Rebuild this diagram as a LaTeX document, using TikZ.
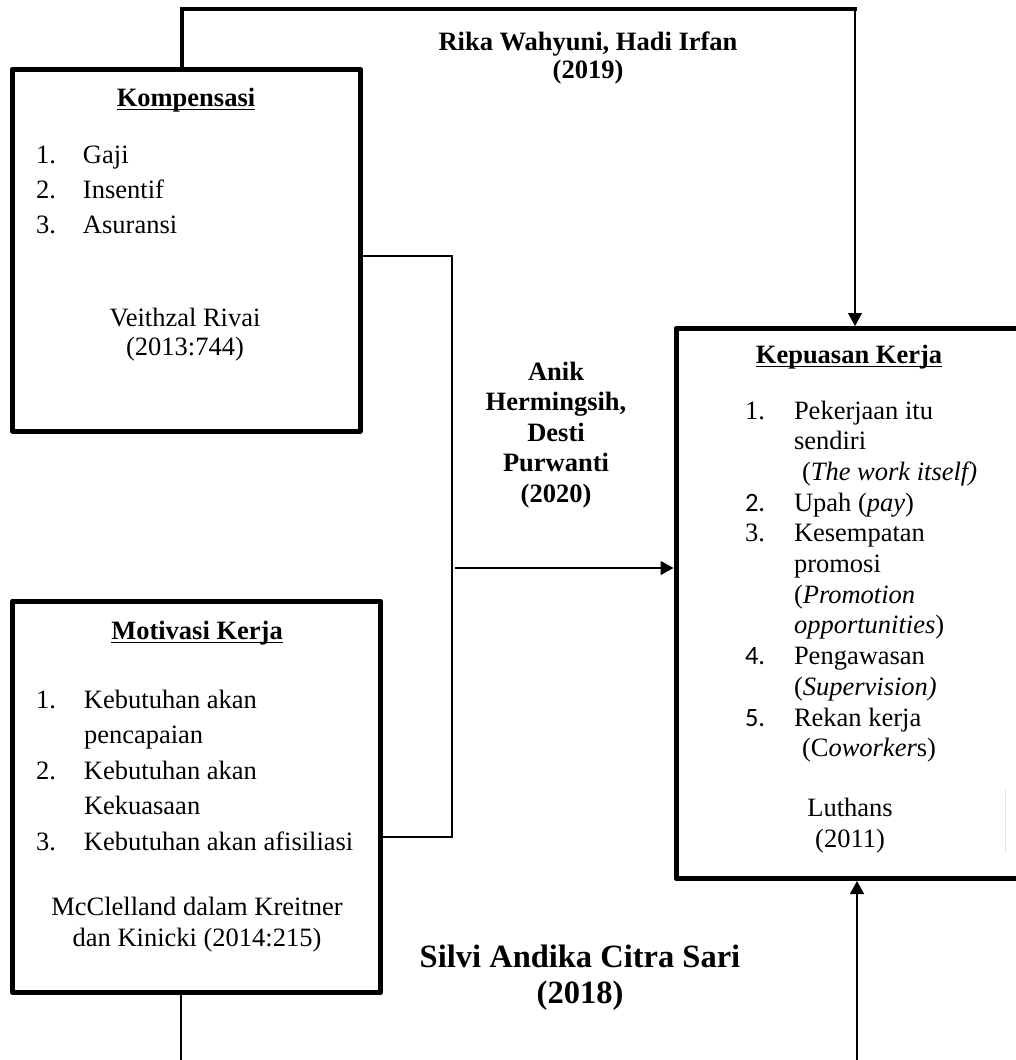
\documentclass[tikz,border=0pt]{standalone}
\usepackage{fontspec}
\setmainfont{Liberation Serif}
\newfontfamily\calib{Carlito}
\usetikzlibrary{arrows.meta}
\begin{document}
\begin{tikzpicture}[x=1pt,y=-1pt,
  box/.style={draw, line width=5pt, line join=round, inner sep=0pt, outer sep=0pt},
  txt/.style={inner sep=0pt, outer sep=0pt, anchor=base},
  lst/.style={inner sep=0pt, outer sep=0pt, anchor=base west},
  conn/.style={line width=1.4pt},
  heavy/.style={line width=3.8pt, line join=miter},
  arr/.style={conn, -{Triangle[length=13pt,width=14pt]}, shorten >=2.5pt},
  uline/.style={line width=1.7pt}
]
\useasboundingbox (0,0) rectangle (1016,1060);
\clip (0,0) rectangle (1016,1060);

% boxes
\node[box, minimum width=347.5pt, minimum height=362pt] (komp) at (186.25,250) {};
\node[box, minimum width=368pt, minimum height=391.5pt] (moti) at (196.5,796.75) {};
\node[box, minimum width=354pt, minimum height=550pt] (kep) at (853,603.5) {};

% coordinates for connector bends
\coordinate (t1) at (182,9);
\coordinate (t2) at (857,9);
\coordinate (t3) at (855,9);
\coordinate (bt) at (452,256);
\coordinate (bb) at (452,837);
\coordinate (ha) at (455,568);
\coordinate (mb) at (181,1064);
\coordinate (ba) at (857,1064);

% connectors
\draw[heavy] (komp.north -| t1) -- (t1) -- (t2);
\draw[arr] (t3) -- (t3 |- kep.north);
\draw[conn] (komp.east |- bt) -- (bt) -- (bb) -- (moti.east |- bb);
\draw[arr] (ha) -- (ha -| kep.west);
\draw[conn] (moti.south -| mb) -- (mb);
\draw[arr] (ba) -- (ba |- kep.south);

% faint line at right
\draw[line width=1pt, black!12] (1005,790) -- (1005,852);

% Kompensasi
\node[txt, font=\fontsize{26.5}{35}\selectfont\bfseries] (kt) at (186,106) {Kompensasi};
\draw[uline] ([yshift=-3.5pt]kt.base west) -- ([yshift=-3.5pt]kt.base east);
\node[lst, font=\fontsize{26.5}{35}\selectfont] (kl) at (36,163)
  {\begin{tabular}[t]{@{}p{47pt}@{}l@{}}1.&Gaji\\2.&Insentif\\3.&Asuransi\end{tabular}};
\node[txt, font=\fontsize{26.5}{29}\selectfont] (kc) at (185,326)
  {\begin{tabular}[t]{@{}c@{}}Veithzal Rivai\\(2013:744)\end{tabular}};

% Motivasi
\node[txt, font=\fontsize{26.5}{35}\selectfont\bfseries] (mt) at (197,639) {Motivasi Kerja};
\draw[uline] ([yshift=-3.5pt]mt.base west) -- ([yshift=-3.5pt]mt.base east);
\node[lst, font=\fontsize{26.5}{35.5}\selectfont] (ml) at (36,708)
  {\begin{tabular}[t]{@{}p{48pt}@{}l@{}}1.&Kebutuhan akan\\&pencapaian\\2.&Kebutuhan akan\\&Kekuasaan\\3.&Kebutuhan akan afisiliasi\end{tabular}};
\node[txt, font=\fontsize{26.5}{31}\selectfont] (mc) at (197,915)
  {\begin{tabular}[t]{@{}c@{}}McClelland dalam Kreitner\\dan Kinicki (2014:215)\end{tabular}};

% Kepuasan
\node[txt, font=\fontsize{26.5}{35}\selectfont\bfseries] (pt) at (849,363) {Kepuasan Kerja};
\draw[uline] ([yshift=-3.5pt]pt.base west) -- ([yshift=-3.5pt]pt.base east);
\node[lst, font=\fontsize{26.5}{30.7}\selectfont] (pl) at (745,419)
  {\begin{tabular}[t]{@{}p{49pt}@{}l@{}}
1.&Pekerjaan itu\\
&sendiri\\
&\hspace{8pt}(\textit{The work itself)}\\
{\calib 2.}&Upah (\textit{pay})\\
3.&Kesempatan\\
&promosi\\
&(\textit{Promotion}\\
&\textit{opportunities})\\
{\calib 4.}&Pengawasan\\
&(\textit{Supervision)}\\
{\calib 5.}&Rekan kerja\\
&\hspace{8pt}(C\textit{oworker}s)
\end{tabular}};
\node[txt, font=\fontsize{26.5}{31}\selectfont] (pc) at (850,816)
  {\begin{tabular}[t]{@{}c@{}}Luthans\\(2011)\end{tabular}};

% study labels
\node[txt, font=\fontsize{26.5}{28.5}\selectfont\bfseries] (rika) at (588,50)
  {\begin{tabular}[t]{@{}c@{}}Rika Wahyuni, Hadi Irfan\\(2019)\end{tabular}};
\node[txt, font=\fontsize{26.5}{30.5}\selectfont\bfseries] (anik) at (556,380)
  {\begin{tabular}[t]{@{}c@{}}Anik\\Hermingsih,\\Desti\\Purwanti\\(2020)\end{tabular}};
\node[txt, font=\fontsize{32.5}{36}\selectfont\bfseries] (silvi) at (580,967)
  {\begin{tabular}[t]{@{}c@{}}Silvi Andika Citra Sari\\(2018)\end{tabular}};
\end{tikzpicture}
\end{document}
